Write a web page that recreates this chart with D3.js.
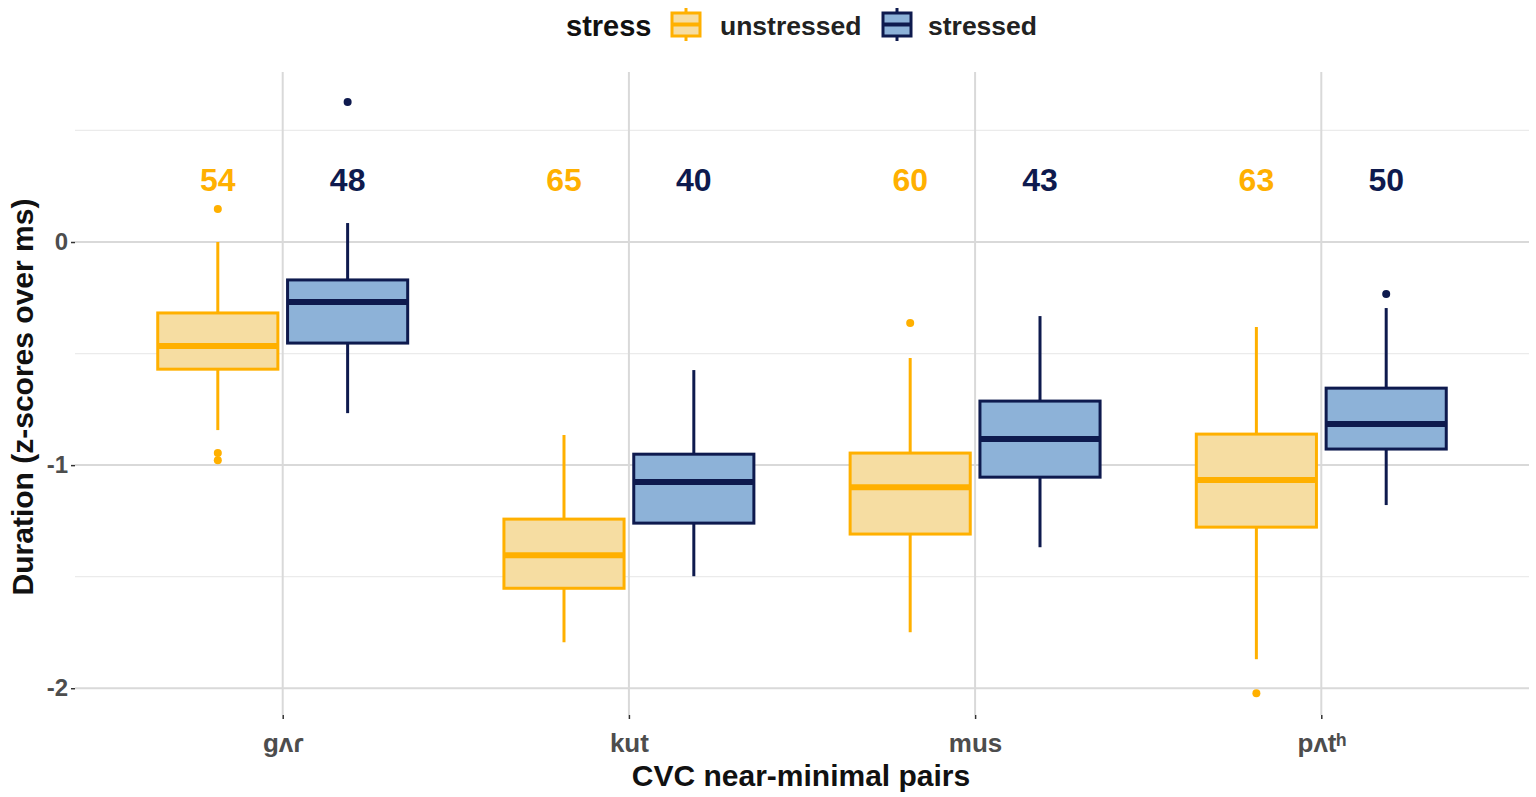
<!DOCTYPE html>
<html><head><meta charset="utf-8">
<script src="https://cdn.jsdelivr.net/npm/d3@7"></script>
<style>body{margin:0;background:#fff}svg{display:block;font-family:"Liberation Sans",Arial,sans-serif}</style>
</head><body><svg id="c" width="1536" height="797"></svg>
<script>
// ---- data ----
const categories = ["gʌɾ", "kut", "mus", "pʌtʰ"];
const groups = ["unstressed", "stressed"];
// [whiskerLow, q1, median, q3, whiskerHigh]
const unstressedStats = [
  [-0.843, -0.570, -0.466, -0.318, 0.000],
  [-1.794, -1.552, -1.404, -1.242, -0.865],
  [-1.749, -1.309, -1.099, -0.946, -0.520],
  [-1.870, -1.278, -1.067, -0.861, -0.381]
];
const stressedStats = [
  [-0.767, -0.453, -0.269, -0.170, 0.085],
  [-1.498, -1.260, -1.076, -0.951, -0.574],
  [-1.368, -1.054, -0.883, -0.713, -0.332],
  [-1.179, -0.928, -0.816, -0.655, -0.296]
];
const unstressedOutliers = [[0.148, -0.946, -0.978], [], [-0.363], [-2.022]];
const stressedOutliers = [[0.628], [], [], [-0.233]];
const unstressedCounts = [54, 65, 60, 63];
const stressedCounts = [48, 40, 43, 50];
const countLabelY = 0.28;
const yTicks = [-2, -1, 0];
const yMinor = [-1.5, -0.5, 0.5];

const colors = {unstressed: {stroke: "#FFB000", fill: "#F6DDA2"}, stressed: {stroke: "#0E1A4E", fill: "#8DB2D8"}};

// ---- layout ----
const svg = d3.select("#c");
const panel = {left: 75, right: 1529, top: 72, bottom: 715};
// ggplot discrete: centers at 1..4, expand 0.6
const xc = d3.scaleLinear().domain([0.4, 4.6]).range([panel.left, panel.right]);
const y = d3.scaleLinear().domain([-2.12, 0.762]).range([panel.bottom, panel.top]);
const step = xc(2) - xc(1);
const dodge = step * 0.1875;
const boxW = step * 0.347;

const g = svg.append("g");
// grid
g.selectAll(".minor").data(yMinor).join("line")
  .attr("x1", panel.left).attr("x2", panel.right)
  .attr("y1", d => y(d)).attr("y2", d => y(d))
  .attr("stroke", "#ebebeb").attr("stroke-width", 1.2);
g.selectAll(".major").data(yTicks).join("line")
  .attr("x1", panel.left).attr("x2", panel.right)
  .attr("y1", d => y(d)).attr("y2", d => y(d))
  .attr("stroke", "#d9d9d9").attr("stroke-width", 2);
g.selectAll(".vx").data(categories).join("line")
  .attr("x1", (d, i) => xc(i + 1)).attr("x2", (d, i) => xc(i + 1))
  .attr("y1", panel.top).attr("y2", panel.bottom)
  .attr("stroke", "#d9d9d9").attr("stroke-width", 2);

// y axis
const yAxis = d3.axisLeft(y).tickValues(yTicks).tickSize(4).tickPadding(3).tickFormat(d => String(d));
const ya = svg.append("g").attr("transform", `translate(${panel.left},0)`).call(yAxis);
ya.select(".domain").remove();
ya.selectAll("line").attr("stroke", "#333").attr("stroke-width", 1.5);
ya.selectAll("text").attr("font-size", 24).attr("font-weight", "bold").attr("fill", "#4d4d4d");

// x axis
const xAxis = d3.axisBottom(xc).tickValues([1, 2, 3, 4]).tickSize(4).tickPadding(15).tickFormat(d => categories[d - 1]);
const xa = svg.append("g").attr("transform", `translate(0,${panel.bottom})`).call(xAxis);
xa.select(".domain").remove();
xa.selectAll("line").attr("stroke", "#333").attr("stroke-width", 1.5);
xa.selectAll("text").attr("font-size", 26).attr("font-weight", "bold").attr("fill", "#4d4d4d");

// boxes
function drawBoxes(stats, outliers, counts, key, sign) {
  const c = colors[key];
  const gg = svg.append("g");
  stats.forEach((s, i) => {
    const cx = xc(i + 1) + sign * dodge;
    const [wl, q1, med, q3, wh] = s;
    gg.append("line").attr("x1", cx).attr("x2", cx).attr("y1", y(wh)).attr("y2", y(q3))
      .attr("stroke", c.stroke).attr("stroke-width", 3);
    gg.append("line").attr("x1", cx).attr("x2", cx).attr("y1", y(q1)).attr("y2", y(wl))
      .attr("stroke", c.stroke).attr("stroke-width", 3);
    gg.append("rect").attr("x", cx - boxW / 2).attr("width", boxW)
      .attr("y", y(q3)).attr("height", y(q1) - y(q3))
      .attr("fill", c.fill).attr("stroke", c.stroke).attr("stroke-width", 3);
    gg.append("line").attr("x1", cx - boxW / 2).attr("x2", cx + boxW / 2).attr("y1", y(med)).attr("y2", y(med))
      .attr("stroke", c.stroke).attr("stroke-width", 6);
    outliers[i].forEach(o => {
      gg.append("circle").attr("cx", cx).attr("cy", y(o)).attr("r", 4).attr("fill", c.stroke);
    });
    gg.append("text").attr("x", cx).attr("y", y(countLabelY)).attr("dy", "0.35em")
      .attr("text-anchor", "middle").attr("font-size", 32).attr("font-weight", "bold")
      .attr("fill", c.stroke).text(counts[i]);
  });
}
drawBoxes(unstressedStats, unstressedOutliers, unstressedCounts, "unstressed", -1);
drawBoxes(stressedStats, stressedOutliers, stressedCounts, "stressed", 1);

// axis titles
svg.append("text").attr("x", 801).attr("y", 786)
  .attr("text-anchor", "middle").attr("font-size", 30).attr("font-weight", "bold").attr("fill", "#111")
  .text("CVC near-minimal pairs");
svg.append("text").attr("transform", `translate(33,397) rotate(-90)`)
  .attr("text-anchor", "middle").attr("font-size", 30).attr("font-weight", "bold").attr("fill", "#111")
  .text("Duration (z-scores over ms)");

// legend
const lg = svg.append("g");
lg.append("text").attr("x", 566).attr("y", 36).attr("font-size", 29).attr("font-weight", "bold").attr("fill", "#111").text("stress");
const keyX = [672, 883];
const labX = [720, 928];
groups.forEach((k, i) => {
  const c = colors[k];
  const kx = keyX[i] + 14;
  lg.append("line").attr("x1", kx).attr("x2", kx).attr("y1", 8).attr("y2", 41).attr("stroke", c.stroke).attr("stroke-width", 3);
  lg.append("rect").attr("x", keyX[i]).attr("y", 13).attr("width", 28).attr("height", 23)
    .attr("fill", c.fill).attr("stroke", c.stroke).attr("stroke-width", 3);
  lg.append("line").attr("x1", keyX[i]).attr("x2", keyX[i] + 28).attr("y1", 24.5).attr("y2", 24.5).attr("stroke", c.stroke).attr("stroke-width", 4);
  lg.append("text").attr("x", labX[i]).attr("y", 35).attr("font-size", 26.5).attr("font-weight", "bold").attr("fill", "#222").text(k);
});
</script></body></html>
